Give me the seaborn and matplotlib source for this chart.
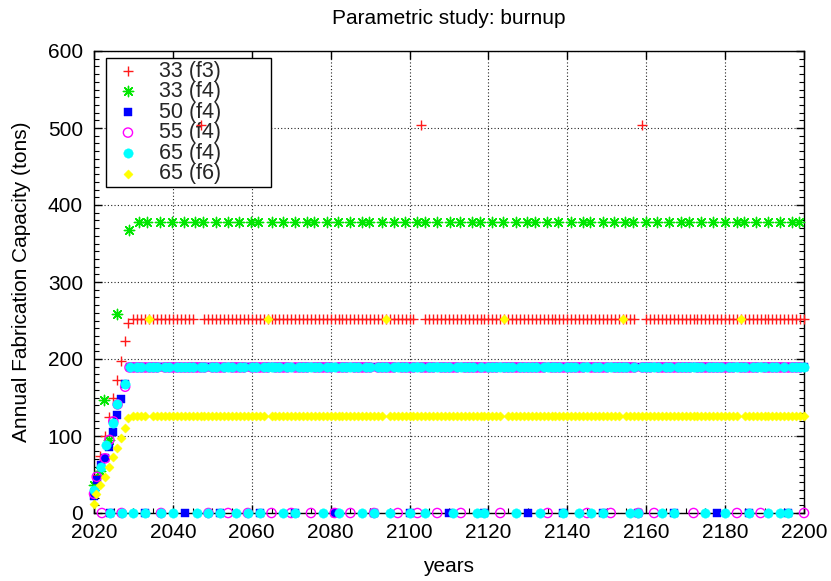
import numpy as np
import pandas as pd
import matplotlib
matplotlib.use("Agg")
import matplotlib.pyplot as plt
from matplotlib.collections import PathCollection
import seaborn as sns

sns.set_theme(style="white")
plt.rcParams["font.family"] = ["Liberation Sans", "DejaVu Sans"]

LAST_YEAR = 2200

# ---- 33 GWd/t, f3 ----
f3_33_ramp_years = [2020.0, 2020.8, 2021.6, 2022.7, 2023.8, 2024.8, 2025.9, 2026.8, 2027.8, 2028.7]
f3_33_ramp_tons = [25, 49, 74, 100, 125, 149, 173, 198, 223, 247]
f3_33_level = 252
f3_33_level_start = 2030
f3_33_peak_years = [2047, 2103, 2159]
f3_33_peak_tons = 504
f3_33_gap_years = [2046, 2102, 2158]

# ---- 33 GWd/t, f4 ----
f4_33_ramp_years = [2020.0, 2021.5, 2022.5, 2023.7, 2025.9, 2028.8]
f4_33_ramp_tons = [37, 55, 147, 95, 258, 367]
f4_33_level = 378
f4_33_level_years = [
    2031.5, 2033.4, 2036.8, 2039.9, 2042.8, 2045.7, 2047.7, 2050.9, 2054.0, 2056.8,
    2059.7, 2061.7, 2065.0, 2068.0, 2071.0, 2073.9, 2075.9, 2079.0, 2081.9, 2084.9,
    2087.9, 2089.8, 2092.9, 2096.0, 2098.9, 2101.8, 2103.9, 2107.0, 2110.2, 2112.8,
    2115.8, 2117.9, 2120.8, 2123.8, 2126.9, 2129.9, 2131.8, 2134.8, 2137.7, 2140.9,
    2143.9, 2145.7, 2149.0, 2151.9, 2154.6, 2156.6, 2160.0, 2162.8, 2165.9, 2168.8,
    2170.9, 2174.0, 2177.0, 2179.9, 2182.9, 2184.8, 2187.9, 2191.0, 2194.0, 2196.9,
    2198.8,
]

# ---- 50 GWd/t, f4 ----
f4_50_ramp_years = [2020.0, 2020.7, 2021.7, 2022.8, 2023.9, 2024.9, 2025.9, 2026.8, 2027.9]
f4_50_ramp_tons = [22, 43, 62, 72, 86, 105, 127, 148, 168]
f4_50_level = 189
f4_50_level_start = 2029
f4_50_zero_years = [2024, 2033, 2043, 2052, 2062, 2071, 2081, 2091, 2100, 2110,
                    2119, 2130, 2139, 2149, 2158, 2167, 2178, 2186, 2196]

# ---- 55 GWd/t, f4 ----
f4_55_ramp_years = [2020.0, 2020.7, 2022.8, 2023.9, 2024.9, 2026.0, 2027.9]
f4_55_ramp_tons = [25, 47, 71, 95, 119, 141, 164]
f4_55_level = 189
f4_55_level_start = 2029
f4_55_zero_years = [2022, 2027, 2037, 2049, 2054, 2059, 2065, 2070, 2075, 2081,
                    2085, 2091, 2097, 2102, 2107, 2113, 2123, 2135, 2145, 2151,
                    2158, 2162, 2172, 2183, 2189, 2200]

# ---- 65 GWd/t, f4 ----
f4_65_ramp_years = [2020.0, 2021.8, 2023.0, 2024.9, 2025.9, 2027.9]
f4_65_ramp_tons = [30, 60, 88, 117, 141, 168]
f4_65_level = 189
f4_65_level_start = 2029
f4_65_zero_years = [2024, 2027, 2030, 2033, 2037, 2040, 2046, 2049, 2052, 2056,
                    2059, 2062, 2068, 2071, 2078, 2082, 2088, 2091, 2095, 2100,
                    2104, 2111, 2117, 2119, 2127, 2133, 2139, 2143, 2146, 2149,
                    2156, 2158, 2164, 2167, 2175, 2180, 2186, 2191, 2194, 2196]

# ---- 65 GWd/t, f6 ----
f6_65_ramp_years = [2020.0, 2020.6, 2021.4, 2022.7, 2023.7, 2024.8, 2025.9, 2026.8, 2027.8, 2028.6]
f6_65_ramp_tons = [12, 25, 36, 47, 60, 73, 84, 97, 110, 123]
f6_65_level = 126
f6_65_level_start = 2030
f6_65_peak_years = [2034, 2064, 2094, 2124, 2154, 2184]
f6_65_peak_tons = 252

labels = ["33 (f3)", "33 (f4)", "50 (f4)", "55 (f4)", "65 (f4)", "65 (f6)"]


def series_frame(ramp_years, ramp_tons, level, level_years,
                 zero_years=(), peak_years=(), peak_tons=0, gap_years=()):
    skip = set(zero_years) | set(peak_years) | set(gap_years)
    years = list(ramp_years)
    tons = list(ramp_tons)
    for yr in level_years:
        if yr not in skip:
            years.append(yr)
            tons.append(level)
    years += list(peak_years)
    tons += [peak_tons] * len(peak_years)
    years += list(zero_years)
    tons += [0] * len(zero_years)
    return pd.DataFrame({"year": years, "tons": tons})


frames = [
    series_frame(f3_33_ramp_years, f3_33_ramp_tons, f3_33_level,
                 range(f3_33_level_start, LAST_YEAR + 1),
                 peak_years=f3_33_peak_years, peak_tons=f3_33_peak_tons,
                 gap_years=f3_33_gap_years),
    series_frame(f4_33_ramp_years, f4_33_ramp_tons, f4_33_level, f4_33_level_years),
    series_frame(f4_50_ramp_years, f4_50_ramp_tons, f4_50_level,
                 range(f4_50_level_start, LAST_YEAR + 1), zero_years=f4_50_zero_years),
    series_frame(f4_55_ramp_years, f4_55_ramp_tons, f4_55_level,
                 range(f4_55_level_start, LAST_YEAR + 1), zero_years=f4_55_zero_years),
    series_frame(f4_65_ramp_years, f4_65_ramp_tons, f4_65_level,
                 range(f4_65_level_start, LAST_YEAR + 1), zero_years=f4_65_zero_years),
    series_frame(f6_65_ramp_years, f6_65_ramp_tons, f6_65_level,
                 range(f6_65_level_start, LAST_YEAR + 1),
                 peak_years=f6_65_peak_years, peak_tons=f6_65_peak_tons),
]

styles = [
    dict(marker="+", color="#ff1a1a", s=50, linewidth=1.0),
    dict(marker=(8, 2, 0), color="#00e600", s=55, linewidth=1.0),
    dict(marker="s", color="#0000ff", edgecolor="#0000ff", s=36, linewidth=0.3),
    dict(marker="o", facecolors="none", edgecolors="#ff00ff", s=44, linewidth=1.0),
    dict(marker="o", color="#00ffff", edgecolor="#00ffff", s=46, linewidth=0.3),
    dict(marker="D", color="#ffff00", edgecolor="#ffff00", s=22, linewidth=0.3),
]

fig = plt.figure(figsize=(8.31, 5.81), dpi=100)
ax = fig.add_axes([94 / 831, 1 - 513 / 581, 710 / 831, 462 / 581])

for frame, label, style in zip(frames, labels, styles):
    sns.scatterplot(data=frame, x="year", y="tons", ax=ax, label=label,
                    legend=False, zorder=4, clip_on=False, **style)

ax.set_xlim(2020, 2200)
ax.set_ylim(0, 600)
ax.set_xticks(np.arange(2020, 2201, 20))
ax.set_xticks(np.arange(2020, 2201, 5), minor=True)
ax.set_yticks(np.arange(0, 601, 100))
ax.set_yticks(np.arange(0, 601, 10), minor=True)
ax.set_xlabel("")
ax.set_ylabel("")

ax.tick_params(which="major", direction="in", length=6, width=1, color="black",
               top=True, right=True, bottom=True, left=True, labelsize=15,
               labelcolor="black")
ax.tick_params(axis="x", which="major", pad=7)
ax.tick_params(axis="y", which="major", pad=8)
ax.tick_params(which="minor", direction="in", length=3.5, width=0.8, color="black",
               top=False, right=True, bottom=True, left=True)

for spine in ax.spines.values():
    spine.set_color("black")
    spine.set_linewidth(1.0)
    spine.set_zorder(3)

ax.set_axisbelow(True)
ax.grid(which="major", linestyle=(0, (1, 2)), color="#222222", linewidth=0.8)
ax.grid(which="minor", visible=False)

handles = [c for c in ax.collections if isinstance(c, PathCollection)]
leg = ax.legend(handles, labels, loc="upper left",
                bbox_to_anchor=(12 / 710, 0.70, 165 / 710, 0.985 - 0.70),
                mode="expand", frameon=True, fancybox=False, framealpha=1,
                edgecolor="black", fontsize=15.5, handlelength=1.8,
                handletextpad=0.55, borderpad=0.12, labelspacing=-0.02,
                borderaxespad=0.0)
leg.get_frame().set_linewidth(1.0)
leg.set_zorder(3.5)

fig.text(449 / 831, 1 - 18 / 581, "Parametric study: burnup", ha="center",
         va="center", fontsize=15, color="black")
fig.text(449 / 831, 1 - 567 / 581, "years", ha="center", va="center",
         fontsize=15, color="black")
fig.text(22 / 831, 1 - 282 / 581, "Annual Fabrication Capacity (tons)",
         ha="center", va="center", rotation=90, fontsize=15, color="black")

fig.savefig("out.png", dpi=100)
